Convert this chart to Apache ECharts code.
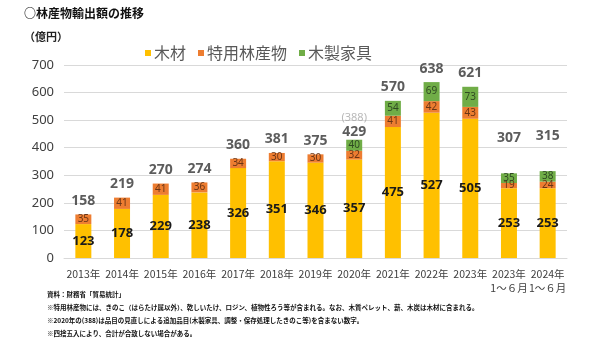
<!DOCTYPE html>
<html><head><meta charset="utf-8">
<script src="https://cdn.jsdelivr.net/npm/echarts@6/dist/echarts.min.js"></script>
<style>html,body{margin:0;padding:0;background:#fff}#c{width:600px;height:350px}</style>
</head><body><div id="c"></div>
<script>
const categories = ['2013年','2014年','2015年','2016年','2017年','2018年','2019年','2020年','2021年','2022年','2023年','2023年\n1～６月','2024年\n1～６月'];
const wood = [123,178,229,238,326,351,346,357,475,527,505,253,253];
const special = [35,41,41,36,34,30,30,32,41,42,43,19,24];
const furniture = [null,null,null,null,null,null,null,40,54,69,73,35,38];
const totals = [158,219,270,274,360,381,375,429,570,638,621,307,315];
const note2020 = '(388)';
const yTicks = [0,100,200,300,400,500,600,700];
const seriesNames = ['木材','特用林産物','木製家具'];

const JP = '"Noto Sans CJK JP", "Noto Sans", sans-serif';
const NUM = '"Noto Sans", "Open Sans", sans-serif';
const chart = echarts.init(document.getElementById('c'), null, {renderer:'canvas'});

const labelDist = totals.map((t,i)=> i===7 ? 0 : (i>=11 ? 28 : 6));

chart.setOption({
  animation:false,
  textStyle:{fontFamily:JP},
  grid:{left:64,right:33,top:65,bottom:92,containLabel:false},
  legend:{
    data:seriesNames, left:140, top:40, itemWidth:6, itemHeight:6, itemGap:12, icon:'rect',
    textStyle:{fontSize:16,color:'#595959',fontFamily:JP,padding:[0,0,0,-2]}
  },
  xAxis:{
    type:'category', data:categories,
    axisLine:{lineStyle:{color:'#d9d9d9'}}, axisTick:{show:false},
    axisLabel:{color:'#404040',fontSize:10.5,fontFamily:JP,interval:0,margin:9,lineHeight:14}
  },
  yAxis:{
    type:'value', min:0, max:700, interval:100,
    axisLine:{show:false}, axisTick:{show:false},
    splitLine:{lineStyle:{color:'#d9d9d9'}},
    axisLabel:{color:'#404040',fontSize:13,fontFamily:NUM,margin:10,
      formatter:v=>yTicks.includes(v)?String(v):''}
  },
  series:[
    {name:seriesNames[0],type:'bar',stack:'s',data:wood,barWidth:16,
     itemStyle:{color:'#FFC000'},
     label:{show:true,position:'inside',color:'#1a1a1a',fontSize:13,fontWeight:'bold',fontFamily:NUM}},
    {name:seriesNames[1],type:'bar',stack:'s',data:special,barWidth:16,
     itemStyle:{color:'#ED7D31'},
     label:{show:true,position:'inside',color:'#6b3515',fontSize:10,fontFamily:NUM}},
    {name:seriesNames[2],type:'bar',stack:'s',data:furniture,barWidth:16,
     itemStyle:{color:'#70AD47'},
     label:{show:true,position:'inside',color:'#2f4a22',fontSize:10,fontFamily:NUM}},
    {name:'合計',type:'scatter',symbolSize:1,itemStyle:{color:'rgba(0,0,0,0)'},silent:true,
     data:totals.map((t,i)=>({value:t,label:{distance:labelDist[i]}})),
     label:{show:true,position:'top',color:'#333',fontSize:14,fontWeight:'bold',fontFamily:NUM,
       formatter:p=>p.dataIndex===7?'{g|'+note2020+'}\n'+p.value:String(p.value),
       rich:{g:{color:'#a6a6a6',fontSize:11,fontWeight:'normal',fontFamily:NUM,lineHeight:15}}}}
  ],
  graphic:[
    {type:'text',left:24,top:7,style:{text:'○林産物輸出額の推移',font:'bold 12px '+JP,fill:'#111'}},
    {type:'text',left:24,top:31,style:{text:'（億円）',font:'bold 11px '+JP,fill:'#222'}},
    {type:'text',left:47,top:291,style:{text:'資料：財務省「貿易統計」',font:'bold 6.5px '+JP,fill:'#111'}},
    {type:'text',left:47,top:304,style:{text:'※特用林産物には、きのこ（はらたけ属以外）、乾しいたけ、ロジン、植物性ろう等が含まれる。なお、木質ペレット、薪、木炭は木材に含まれる。',font:'bold 6.5px '+JP,fill:'#111'}},
    {type:'text',left:47,top:317,style:{text:'※2020年の(388)は品目の見直しによる追加品目(木製家具、調整・保存処理したきのこ等)を含まない数字。',font:'bold 6.5px '+JP,fill:'#111'}},
    {type:'text',left:47,top:330,style:{text:'※四捨五入により、合計が合致しない場合がある。',font:'bold 6.5px '+JP,fill:'#111'}}
  ]
});
</script></body></html>
